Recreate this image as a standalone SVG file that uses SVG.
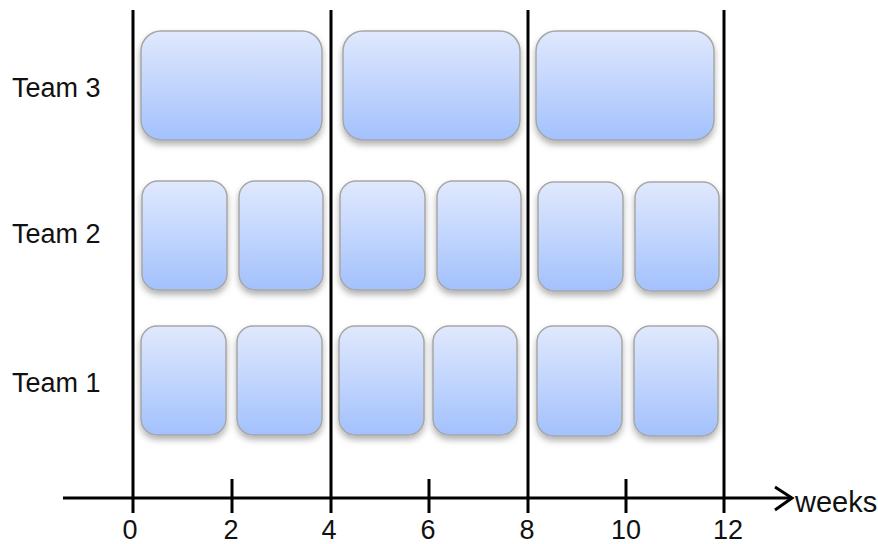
<svg xmlns="http://www.w3.org/2000/svg" width="878" height="544" viewBox="0 0 878 544">
<defs>
<linearGradient id="g" x1="0" y1="0" x2="0" y2="1">
<stop offset="0" stop-color="#e0e9fd"/>
<stop offset="1" stop-color="#a3c1fd"/>
</linearGradient>
<filter id="sh" x="-20%" y="-20%" width="140%" height="150%">
<feDropShadow dx="0" dy="4" stdDeviation="3" flood-color="#000" flood-opacity="0.3"/>
</filter>
</defs>
<style>
.box{fill:url(#g);stroke:#a6a6a6;stroke-width:1.5;filter:url(#sh)}
.ln{stroke:#000;stroke-width:3;fill:none}
.lbl{font-family:"Liberation Sans",Arial,sans-serif;font-size:27px;fill:#111}
.num{font-family:"Liberation Sans",Arial,sans-serif;font-size:27px;fill:#111;text-anchor:middle}
</style>
<g id="labels">
<text class="lbl" x="12" y="97">Team 3</text>
<text class="lbl" x="12" y="243">Team 2</text>
<text class="lbl" x="12" y="392">Team 1</text>
</g>
<g id="team3">
<rect class="box" x="141" y="31" width="181" height="109" rx="20"/>
<rect class="box" x="343" y="31" width="177" height="109" rx="20"/>
<rect class="box" x="536" y="31" width="178" height="109" rx="20"/>
</g>
<g id="team2">
<rect class="box" x="142" y="181" width="85" height="109" rx="16"/>
<rect class="box" x="239" y="181" width="84" height="109" rx="16"/>
<rect class="box" x="340" y="181" width="85" height="109" rx="16"/>
<rect class="box" x="437" y="181" width="84" height="109" rx="16"/>
<rect class="box" x="538" y="182" width="85" height="109" rx="16"/>
<rect class="box" x="635" y="182" width="84" height="109" rx="16"/>
</g>
<g id="team1">
<rect class="box" x="141" y="326" width="85" height="109" rx="16"/>
<rect class="box" x="237" y="326" width="85" height="109" rx="16"/>
<rect class="box" x="339" y="326" width="85" height="109" rx="16"/>
<rect class="box" x="433" y="326" width="84" height="109" rx="16"/>
<rect class="box" x="537" y="326" width="85" height="110" rx="16"/>
<rect class="box" x="634" y="326" width="84" height="110" rx="16"/>
</g>
<g id="connectors">
<line class="ln" x1="133" y1="10" x2="133" y2="513"/>
<line class="ln" x1="331" y1="10" x2="331" y2="513"/>
<line class="ln" x1="528" y1="10" x2="528" y2="513"/>
<line class="ln" x1="724" y1="10" x2="724" y2="513"/>
<line class="ln" x1="232" y1="479" x2="232" y2="513"/>
<line class="ln" x1="429" y1="479" x2="429" y2="513"/>
<line class="ln" x1="626" y1="479" x2="626" y2="513"/>
<line class="ln" x1="63" y1="498" x2="792" y2="498"/>
<polyline class="ln" points="775,487 792,498 775,510"/>
</g>
<g id="axis-labels">
<text class="num" x="130" y="539">0</text>
<text class="num" x="231" y="539">2</text>
<text class="num" x="329" y="539">4</text>
<text class="num" x="428" y="539">6</text>
<text class="num" x="527" y="539">8</text>
<text class="num" x="626" y="539">10</text>
<text class="num" x="728" y="539">12</text>
<text class="lbl" x="795" y="512" style="font-size:29px">weeks</text>
</g>
</svg>
